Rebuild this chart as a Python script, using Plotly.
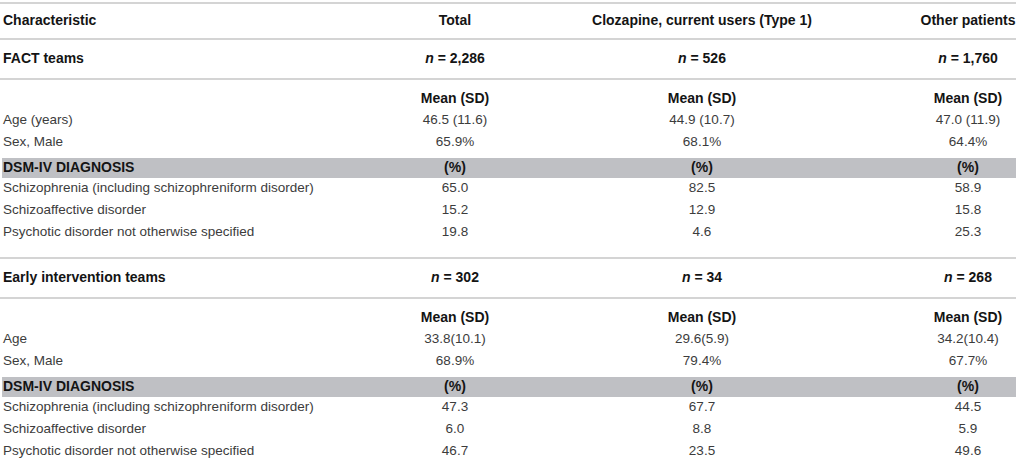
import plotly.graph_objects as go

# table content, one list per column
characteristic = ["Characteristic", "FACT teams", "", "Age (years)", "Sex, Male",
                  "DSM-IV DIAGNOSIS",
                  "Schizophrenia (including schizophreniform disorder)",
                  "Schizoaffective disorder",
                  "Psychotic disorder not otherwise specified",
                  "Early intervention teams", "", "Age", "Sex, Male",
                  "DSM-IV DIAGNOSIS",
                  "Schizophrenia (including schizophreniform disorder)",
                  "Schizoaffective disorder",
                  "Psychotic disorder not otherwise specified"]
total = ["Total", "n = 2,286", "Mean (SD)", "46.5 (11.6)", "65.9%", "(%)",
         "65.0", "15.2", "19.8",
         "n = 302", "Mean (SD)", "33.8(10.1)", "68.9%", "(%)",
         "47.3", "6.0", "46.7"]
clozapine = ["Clozapine, current users (Type 1)", "n = 526", "Mean (SD)",
             "44.9 (10.7)", "68.1%", "(%)", "82.5", "12.9", "4.6",
             "n = 34", "Mean (SD)", "29.6(5.9)", "79.4%", "(%)",
             "67.7", "8.8", "23.5"]
other = ["Other patients", "n = 1,760", "Mean (SD)", "47.0 (11.9)", "64.4%",
         "(%)", "58.9", "15.8", "25.3",
         "n = 268", "Mean (SD)", "34.2(10.4)", "67.7%", "(%)",
         "44.5", "5.9", "49.6"]
row_kind = ["head", "group", "sub", "data", "data", "band", "data", "data", "data",
            "group", "sub", "data", "data", "band", "data", "data", "data"]

# layout of rows: (padding above, row height) in px
row_style = {"head": (0, 36), "group": (0, 40), "sub": (9, 22),
             "data": (0, 22), "band": (4, 20)}
col_x = [3, 455, 702, 968]
W, H = 1016, 468
line_color = "#c6c6c6"
band_color = "#bfc0c4"
font = "Liberation Sans, Arial, Helvetica, sans-serif"

y = 3
centers, shapes = [], []
shapes.append(dict(type="line", xref="paper", yref="y", x0=0, x1=1, y0=y, y1=y,
                   line=dict(color=line_color, width=1.5)))
prev = None
for kind in row_kind:
    pad, h = row_style[kind]
    if kind == "group" and prev == "data":
        pad = 14
    top = y + pad
    centers.append(top + h / 2)
    if kind == "group":
        for yy in (top, top + h):
            shapes.append(dict(type="line", xref="paper", yref="y", x0=0, x1=1,
                               y0=yy, y1=yy, line=dict(color=line_color, width=1.5)))
    if kind == "band":
        shapes.append(dict(type="rect", xref="paper", yref="y", x0=0.002, x1=1,
                           y0=top, y1=top + h, fillcolor=band_color,
                           line=dict(width=0), layer="below"))
    y = top + h
    prev = kind


def fmt(txt, kind):
    if txt.startswith("n = "):
        txt = "<i>n</i>" + txt[1:]
    if kind == "data":
        return txt
    return "<b>" + txt + "</b>"


fig = go.Figure()
for i, col in enumerate([characteristic, total, clozapine, other]):
    texts = [fmt(t, k) for t, k in zip(col, row_kind)]
    fig.add_trace(go.Scatter(
        x=[col_x[i]] * len(col), y=centers, text=texts, mode="text",
        textposition="middle right" if i == 0 else "middle center",
        textfont=dict(family=font,
                      size=[13.5 if k == "data" else 14 for k in row_kind],
                      color=["#3c3c3c" if k == "data" else "#141414" for k in row_kind]),
        hoverinfo="skip", showlegend=False))

fig.update_layout(
    width=W, height=H, margin=dict(l=0, r=0, t=0, b=0),
    paper_bgcolor="white", plot_bgcolor="white",
    xaxis=dict(range=[0, W], visible=False, fixedrange=True),
    yaxis=dict(range=[H, 0], visible=False, fixedrange=True),
    shapes=shapes,
)
# page body has a default 8px margin; drop it so the table sits at the corner
fig.write_html("out.html", config={"displayModeBar": False},
               post_script="document.body.style.margin='0';")
